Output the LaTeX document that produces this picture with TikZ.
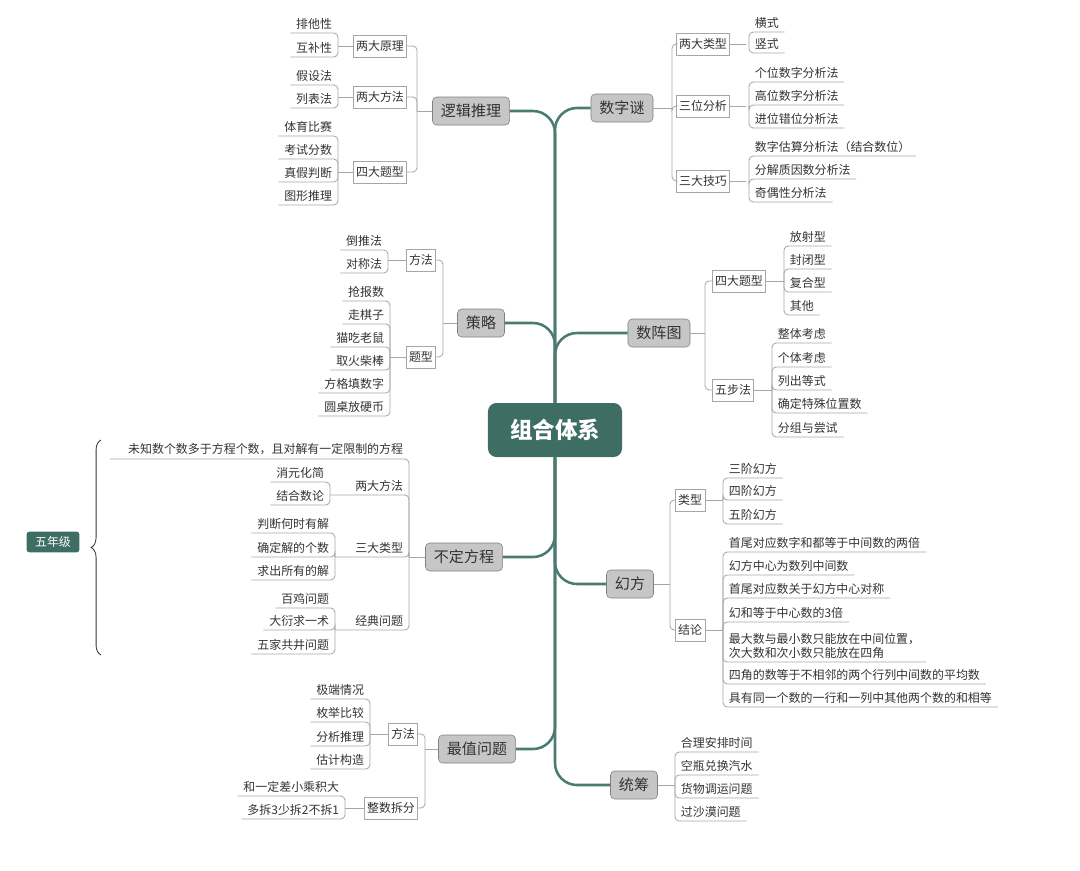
\documentclass[tikz,border=0pt]{standalone}
\usepackage{fontspec}
\setmainfont{Noto Sans CJK SC}
\usetikzlibrary{positioning,decorations.pathreplacing}
\definecolor{trunkgreen}{HTML}{4A7B71}
\definecolor{rootgreen}{HTML}{3E6D64}
\definecolor{topicgray}{HTML}{C6C6C6}
\definecolor{linegray}{HTML}{A6A6A6}
\definecolor{txt}{HTML}{333333}

\begin{document}
\begin{tikzpicture}[
		x=0.025cm, y=-0.025cm,
		font=\fontsize{8.5}{10}\selectfont, text=txt,
		root/.style={fill=rootgreen, rounded corners=6pt, text=white, font=\fontsize{16}{18}\selectfont\bfseries, minimum width=3.35cm, minimum height=1.35cm},
		grade/.style={fill=rootgreen, rounded corners=2pt, text=white, minimum width=1.32cm, minimum height=0.52cm},
		topic/.style={draw=gray, fill=topicgray, rounded corners=3pt, font=\fontsize{10.7}{12}\selectfont, minimum height=0.7cm, inner xsep=6pt},
		subbox/.style={draw=linegray, fill=white, minimum height=0.55cm, inner xsep=2pt},
		leafr/.style={anchor=south west, inner xsep=4pt, inner ysep=2.5pt},
		leafl/.style={anchor=south east, inner xsep=4pt, inner ysep=2.5pt},
		trunk/.style={draw=trunkgreen, line width=1.8pt, rounded corners=0.55cm},
		conn/.style={draw=linegray, line width=0.6pt, rounded corners=3pt}
	]
	\useasboundingbox (0,0) rectangle (1080,870);

	% root and main topics
	\node[root] (root) at (555,430) {组合体系};
	\node[topic] (logic) at (471,111) {逻辑推理};
	\node[topic] (digits) at (622,108) {数字谜};
	\node[topic] (strat) at (481,323) {策略};
	\node[topic] (array) at (659,333) {数阵图};
	\node[topic] (indet) at (464,557) {不定方程};
	\node[topic] (magic) at (630,584) {幻方};
	\node[topic] (extreme) at (477,749) {最值问题};
	\node[topic] (plan) at (634,785) {统筹};

	\draw[trunk] (root.north) |- (logic.east);
	\draw[trunk] (root.north) |- (digits.west);
	\draw[trunk] (root.north) |- (strat.east);
	\draw[trunk] (root.north) |- (array.west);
	\draw[trunk] (root.south) |- (indet.east);
	\draw[trunk] (root.south) |- (magic.west);
	\draw[trunk] (root.south) |- (extreme.east);
	\draw[trunk] (root.south) |- (plan.west);

	% 逻辑推理
	\node[subbox, anchor=east] (lg1) at (407,46) {两大原理};
	\node[subbox, anchor=east] (lg2) at (407,97) {两大方法};
	\node[subbox, anchor=east] (lg3) at (407,172) {四大题型};
	\draw[conn] (logic.west) -- (417,111);
	\foreach \s in {lg1,lg2,lg3} {\draw[conn] (417,111) |- (\s.east); \draw[conn] (\s.west) -- ++(-15,0);}
	\foreach \t/\y [count=\i] in {排他性/33, 互补性/57}
		{\node[leafl] (lg1-\i) at (338,\y) {\t}; \draw[conn] (338,46) |- (lg1-\i.south west);}
	\foreach \t/\y [count=\i] in {假设法/85, 列表法/108}
		{\node[leafl] (lg2-\i) at (338,\y) {\t}; \draw[conn] (338,97) |- (lg2-\i.south west);}
	\foreach \t/\y [count=\i] in {体育比赛/136, 考试分数/159, 真假判断/182, 图形推理/205}
		{\node[leafl] (lg3-\i) at (338,\y) {\t}; \draw[conn] (338,172) |- (lg3-\i.south west);}

	% 数字谜
	\node[subbox, anchor=west] (dg1) at (676,44) {两大类型};
	\node[subbox, anchor=west] (dg2) at (676,106) {三位分析};
	\node[subbox, anchor=west] (dg3) at (676,181) {三大技巧};
	\draw[conn] (digits.east) -- (672,108);
	\foreach \s in {dg1,dg2,dg3} {\draw[conn] (672,108) |- (\s.west); \draw[conn] (\s.east) -- ++(16,0);}
	\foreach \t/\y [count=\i] in {横式/32, 竖式/53}
		{\node[leafr] (dg1-\i) at (749,\y) {\t}; \draw[conn] (749,44) |- (dg1-\i.south east);}
	\foreach \t/\y [count=\i] in {个位数字分析法/82, 高位数字分析法/105, 进位错位分析法/128}
		{\node[leafr] (dg2-\i) at (749,\y) {\t}; \draw[conn] (749,106) |- (dg2-\i.south east);}
	\foreach \t/\y [count=\i] in {数字估算分析法（结合数位）/156, 分解质因数分析法/179, 奇偶性分析法/202}
		{\node[leafr] (dg3-\i) at (749,\y) {\t}; \draw[conn] (749,181) |- (dg3-\i.south east);}

	% 策略
	\node[subbox, anchor=east] (st1) at (436,260) {方法};
	\node[subbox, anchor=east] (st2) at (436,357) {题型};
	\draw[conn] (strat.west) -- (443,323);
	\foreach \s in {st1,st2} {\draw[conn] (443,323) |- (\s.east);}
	\draw[conn] (st1.west) -- (388,260);
	\draw[conn] (st2.west) -- (390,357);
	\foreach \t/\y [count=\i] in {倒推法/250, 对称法/273}
		{\node[leafl] (st1-\i) at (388,\y) {\t}; \draw[conn] (388,260) |- (st1-\i.south west);}
	\foreach \t/\y [count=\i] in {抢报数/301, 走棋子/324, 猫吃老鼠/347, 取火柴棒/370, 方格填数字/393, 圆桌放硬币/416}
		{\node[leafl] (st2-\i) at (390,\y) {\t}; \draw[conn] (390,357) |- (st2-\i.south west);}

	% 数阵图
	\node[subbox, anchor=west] (ar1) at (712,281) {四大题型};
	\node[subbox, anchor=west] (ar2) at (712,390) {五步法};
	\draw[conn] (array.east) -- (705,333);
	\foreach \s in {ar1,ar2} {\draw[conn] (705,333) |- (\s.west);}
	\draw[conn] (ar1.east) -- (784,281);
	\draw[conn] (ar2.east) -- (772,390);
	\foreach \t/\y [count=\i] in {放射型/246, 封闭型/269, 复合型/292, 其他/315}
		{\node[leafr] (ar1-\i) at (784,\y) {\t}; \draw[conn] (784,281) |- (ar1-\i.south east);}
	\foreach \t/\y [count=\i] in {整体考虑/343, 个体考虑/367, 列出等式/390, 确定特殊位置数/413, 分组与尝试/437}
		{\node[leafr] (ar2-\i) at (772,\y) {\t}; \draw[conn] (772,390) |- (ar2-\i.south east);}

	% 不定方程
	\draw[conn] (indet.west) -- (409,557);
	\node[leafl] (in0) at (409,459) {未知数个数多于方程个数，且对解有一定限制的方程};
	\draw[conn] (409,557) |- (110,459);
	\node[leafl] (in1) at (409,495) {两大方法};
	\node[leafl] (in2) at (409,557) {三大类型};
	\node[leafl] (in3) at (409,630) {经典问题};
	\coordinate (in1b) at (330,495);
	\coordinate (in2b) at (335,557);
	\coordinate (in3b) at (335,630);
	\foreach \s in {in1b,in2b,in3b} {\draw[conn] (409,557) |- (\s);}
	\foreach \t/\y [count=\i] in {消元化简/482, 结合数论/505}
		{\node[leafl] (in1-\i) at (330,\y) {\t}; \draw[conn] (in1b) |- (in1-\i.south west);}
	\foreach \t/\y [count=\i] in {判断何时有解/533, 确定解的个数/557, 求出所有的解/580}
		{\node[leafl] (in2-\i) at (335,\y) {\t}; \draw[conn] (in2b) |- (in2-\i.south west);}
	\foreach \t/\y [count=\i] in {百鸡问题/608, 大衍求一术/630, 五家共井问题/654}
		{\node[leafl] (in3-\i) at (335,\y) {\t}; \draw[conn] (in3b) |- (in3-\i.south west);}

	% 五年级
	\node[grade] (grade) at (53,542) {五年级};
	\draw[draw=txt, line width=0.6pt, decorate, decoration={brace, amplitude=7pt}] (101,655) -- (101,440);

	% 幻方
	\node[subbox, anchor=west] (mg1) at (675,500) {类型};
	\node[subbox, anchor=west] (mg2) at (675,630) {结论};
	\draw[conn] (magic.east) -- (670,584);
	\foreach \s in {mg1,mg2} {\draw[conn] (670,584) |- (\s.west); \draw[conn] (\s.east) -- (723,|-\s.east);}
	\foreach \t/\y [count=\i] in {三阶幻方/478, 四阶幻方/500, 五阶幻方/524}
		{\node[leafr] (mg1-\i) at (723,\y) {\t}; \draw[conn] (723,500) |- (mg1-\i.south east);}
	\foreach \t/\y [count=\i] in {首尾对应数字和都等于中间数的两倍/552, 幻方中心为数列中间数/575, 首尾对应数关于幻方中心对称/598, 幻和等于中心数的3倍/622, 四角的数等于不相邻的两个行列中间数的平均数/684, 具有同一个数的一行和一列中其他两个数的和相等/707}
		{\node[leafr] (mg2-\i) at (723,\y) {\t}; \draw[conn] (723,630) |- (mg2-\i.south east);}
	\node[leafr, align=left] (mg2-7) at (723,662) {最大数与最小数只能放在中间位置，\\次大数和次小数只能放在四角};
	\draw[conn] (723,630) |- (mg2-7.south east);

	% 最值问题
	\node[subbox, anchor=east] (ex1) at (418,734) {方法};
	\node[subbox, anchor=east] (ex2) at (418,808) {整数拆分};
	\draw[conn] (extreme.west) -- (425,749);
	\foreach \s in {ex1,ex2} {\draw[conn] (425,749) |- (\s.east);}
	\draw[conn] (ex1.west) -- (370,734);
	\draw[conn] (ex2.west) -- (345,808);
	\foreach \t/\y [count=\i] in {极端情况/699, 枚举比较/722, 分析推理/746, 估计构造/769}
		{\node[leafl] (ex1-\i) at (370,\y) {\t}; \draw[conn] (370,734) |- (ex1-\i.south west);}
	\foreach \t/\y [count=\i] in {和一定差小乘积大/796, 多拆3少拆2不拆1/819}
		{\node[leafl] (ex2-\i) at (345,\y) {\t}; \draw[conn] (345,808) |- (ex2-\i.south west);}

	% 统筹
	\draw[conn] (plan.east) -- (675,785);
	\foreach \t/\y [count=\i] in {合理安排时间/752, 空瓶兑换汽水/775, 货物调运问题/798, 过沙漠问题/821}
		{\node[leafr] (pl-\i) at (675,\y) {\t}; \draw[conn] (675,785) |- (pl-\i.south east);}
\end{tikzpicture}
\end{document}
